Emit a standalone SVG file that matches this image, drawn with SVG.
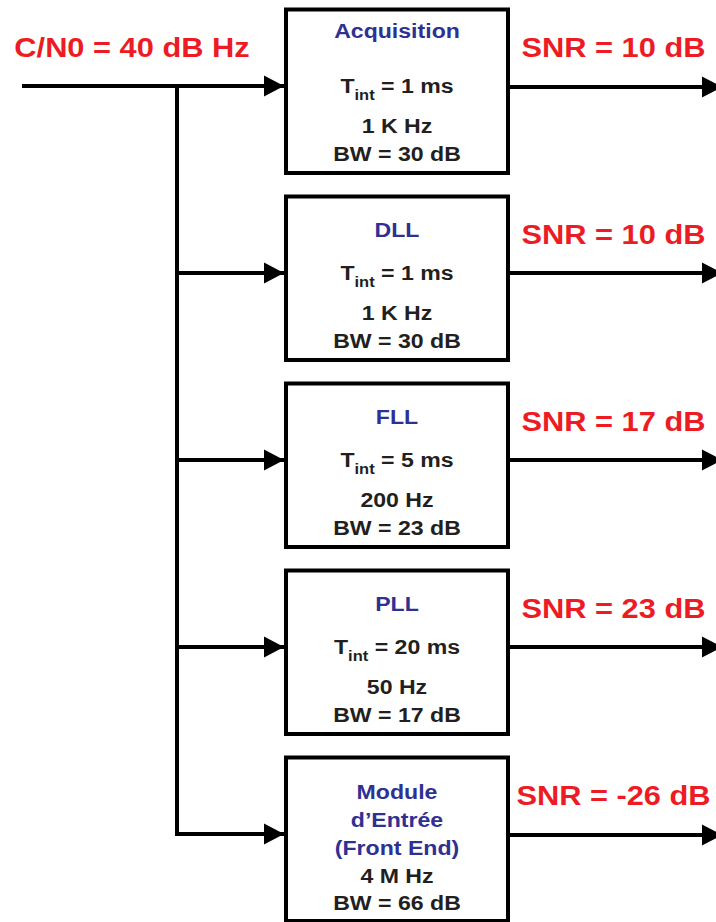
<svg xmlns="http://www.w3.org/2000/svg" width="716" height="922" viewBox="0 0 716 922">
  <style>
    text { font-family: "Liberation Sans", Arial, sans-serif; font-weight: bold; text-anchor: middle;
           transform-box: fill-box; transform-origin: center; transform: scaleX(1.1); }
    .red { fill: #ed1c24; font-size: 28px; }
    .title { fill: #2e3192; font-size: 21px; }
    .val { fill: #231f20; font-size: 21px; }
    .sub { font-size: 15px; }
    .box { fill: #ffffff; stroke: #000000; stroke-width: 4; }
    .wire { fill: none; stroke: #000000; stroke-width: 4; }
  </style>
  <defs>
    <marker id="arrow" markerUnits="userSpaceOnUse" markerWidth="20" markerHeight="22" refX="20" refY="11" orient="auto" overflow="visible">
      <path d="M0,0.5 L20,11 L0,21.5 z" fill="#000000"/>
    </marker>
  </defs>

  <!-- input label -->
  <text class="red" x="132" y="57">C/N0 = 40 dB Hz</text>

  <!-- connectors -->
  <g id="connectors">
    <path class="wire" d="M22,86 H284" marker-end="url(#arrow)"/>
    <path class="wire" d="M177,86 V836"/>
    <path class="wire" d="M175,273 H284" marker-end="url(#arrow)"/>
    <path class="wire" d="M175,460 H284" marker-end="url(#arrow)"/>
    <path class="wire" d="M175,647 H284" marker-end="url(#arrow)"/>
    <path class="wire" d="M175,834 H284" marker-end="url(#arrow)"/>

    <path class="wire" d="M508,87 H722" marker-end="url(#arrow)"/>
    <path class="wire" d="M508,273 H722" marker-end="url(#arrow)"/>
    <path class="wire" d="M508,460 H722" marker-end="url(#arrow)"/>
    <path class="wire" d="M508,647 H722" marker-end="url(#arrow)"/>
    <path class="wire" d="M508,835 H722" marker-end="url(#arrow)"/>
  </g>

  <!-- output labels -->
  <text class="red" x="613.5" y="57">SNR = 10 dB</text>
  <text class="red" x="613.5" y="244">SNR = 10 dB</text>
  <text class="red" x="613.5" y="431">SNR = 17 dB</text>
  <text class="red" x="613.5" y="618">SNR = 23 dB</text>
  <text class="red" x="613.5" y="805">SNR = -26 dB</text>

  <g id="acquisition">
    <rect class="box" x="286" y="9.5" width="222" height="163.5"/>
    <text class="title" x="397" y="38">Acquisition</text>
    <text class="val" x="397" y="93">T<tspan class="sub" dy="7">int</tspan><tspan dy="-7"> = 1 ms</tspan></text>
    <text class="val" x="397" y="133">1 K Hz</text>
    <text class="val" x="397" y="161">BW = 30 dB</text>
  </g>

  <g id="dll">
    <rect class="box" x="286" y="196.5" width="222" height="163.5"/>
    <text class="title" x="397" y="237">DLL</text>
    <text class="val" x="397" y="280">T<tspan class="sub" dy="7">int</tspan><tspan dy="-7"> = 1 ms</tspan></text>
    <text class="val" x="397" y="320">1 K Hz</text>
    <text class="val" x="397" y="348">BW = 30 dB</text>
  </g>

  <g id="fll">
    <rect class="box" x="286" y="383.5" width="222" height="163.5"/>
    <text class="title" x="397" y="424">FLL</text>
    <text class="val" x="397" y="467">T<tspan class="sub" dy="7">int</tspan><tspan dy="-7"> = 5 ms</tspan></text>
    <text class="val" x="397" y="507">200 Hz</text>
    <text class="val" x="397" y="535">BW = 23 dB</text>
  </g>

  <g id="pll">
    <rect class="box" x="286" y="570.5" width="222" height="163.5"/>
    <text class="title" x="397" y="611">PLL</text>
    <text class="val" x="397" y="654">T<tspan class="sub" dy="7">int</tspan><tspan dy="-7"> = 20 ms</tspan></text>
    <text class="val" x="397" y="694">50 Hz</text>
    <text class="val" x="397" y="722">BW = 17 dB</text>
  </g>

  <g id="front-end">
    <rect class="box" x="286" y="757.5" width="222" height="163.5"/>
    <text class="title" x="397" y="799">Module</text>
    <text class="title" x="397" y="827">d’Entrée</text>
    <text class="title" x="397" y="855">(Front End)</text>
    <text class="val" x="397" y="883">4 M Hz</text>
    <text class="val" x="397" y="910">BW = 66 dB</text>
  </g>
</svg>
